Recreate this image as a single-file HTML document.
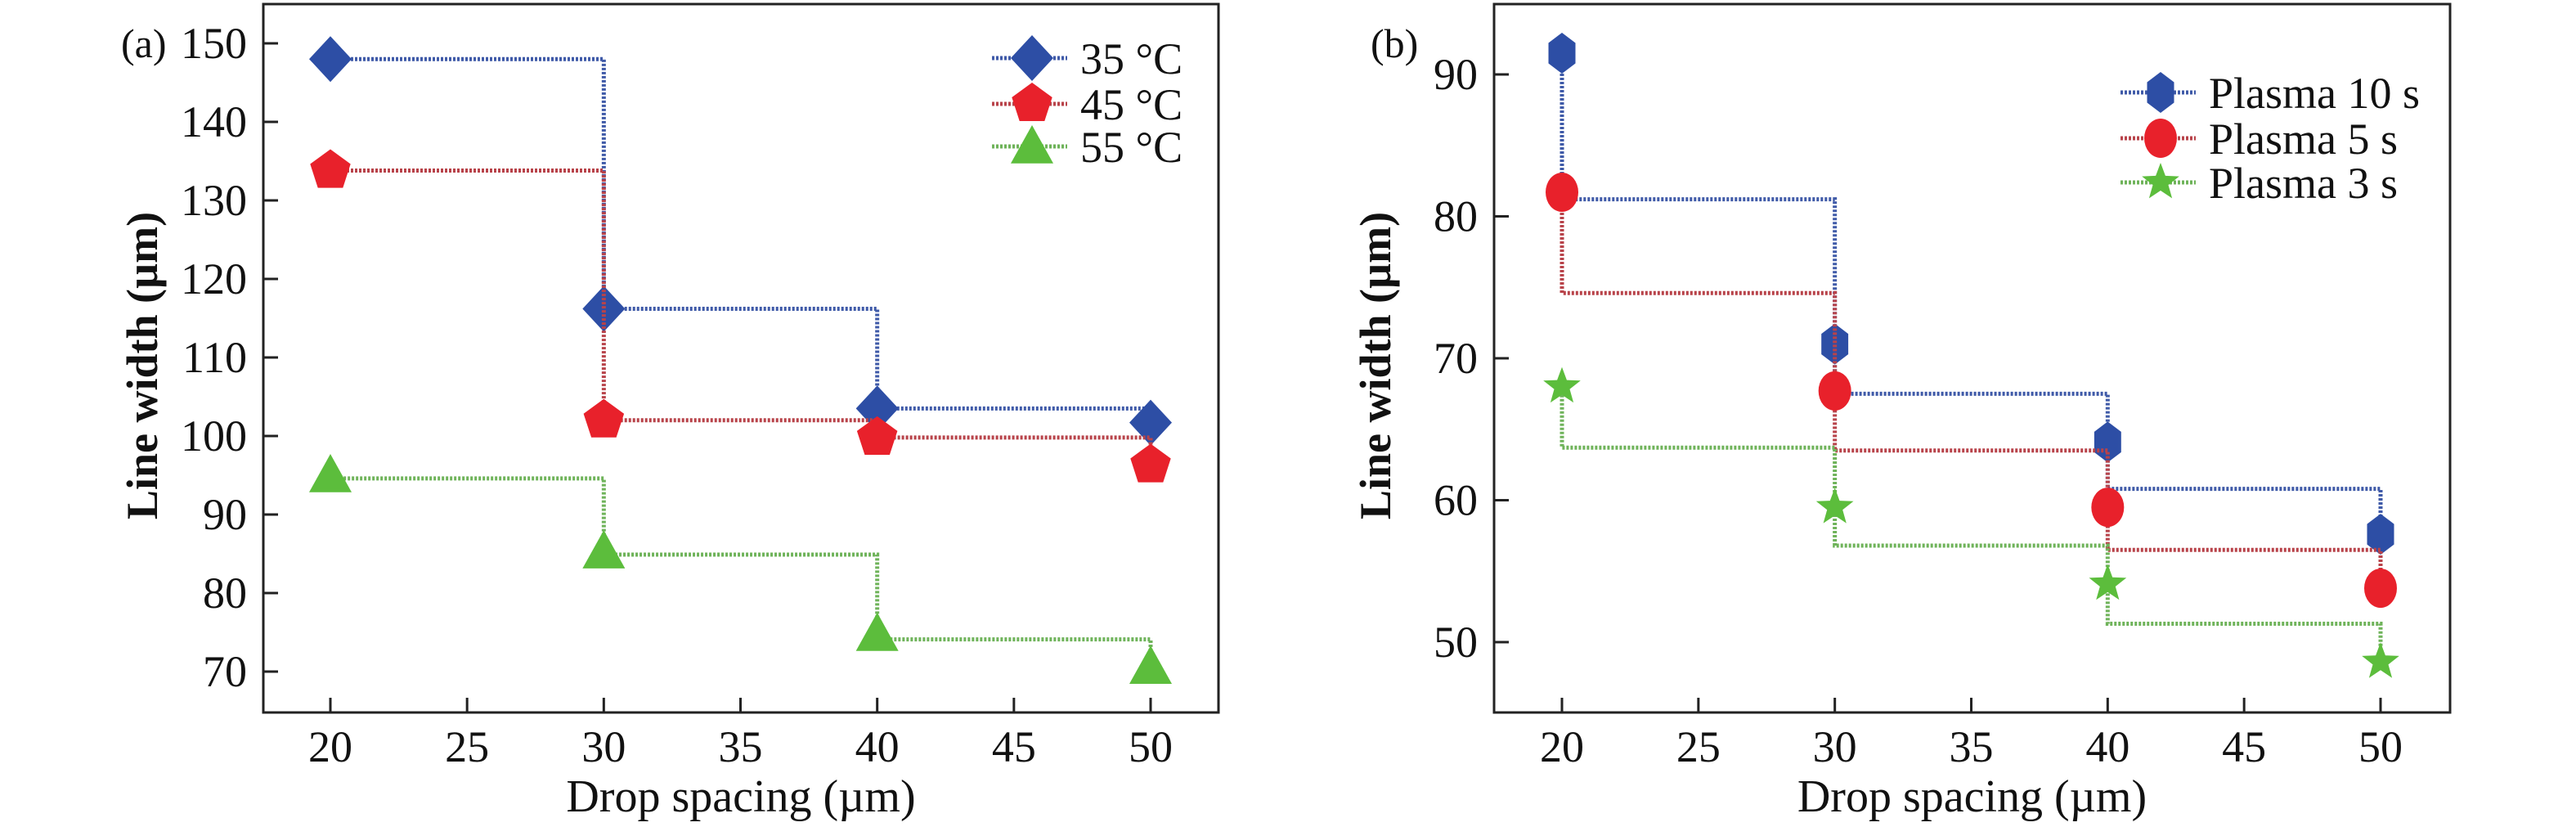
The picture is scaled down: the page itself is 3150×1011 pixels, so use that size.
<!DOCTYPE html>
<html><head><meta charset="utf-8"><style>
html,body{margin:0;padding:0;background:#fff;}
svg, svg text{font-family:"Liberation Serif","DejaVu Serif",serif;}
</style></head><body>
<svg id="chart" width="3150" height="1006" viewBox="0 0 3150 1006" xmlns="http://www.w3.org/2000/svg" font-family="Liberation Serif, serif"></svg>
<script>
// Panel (a)
const aX = [20, 30, 40, 50];
const a35 = [148, 116.2, 103.5, 101.7];
const a45 = [133.8, 102, 99.8, 96.3];
const a55 = [95, 85.3, 74.8, 70.6];
const a35Step = [148, 116.2, 103.5];
const a45Step = [133.8, 102, 99.8];
const a55Step = [94.6, 84.9, 74.1];
const aXTicks = [20, 25, 30, 35, 40, 45, 50];
const aYTicks = [70, 80, 90, 100, 110, 120, 130, 140, 150];
const aLabels = ["35 °C", "45 °C", "55 °C"];
// Panel (b)
const bX = [20, 30, 40, 50];
const b10 = [91.5, 71, 64.1, 57.6];
const b5 = [81.7, 67.7, 59.5, 53.8];
const b3 = [68, 59.5, 54.1, 48.6];
const b10Step = [81.2, 67.5, 60.8];
const b5Step = [74.6, 63.5, 56.5];
const b3Step = [63.7, 56.8, 51.3];
const bXTicks = [20, 25, 30, 35, 40, 45, 50];
const bYTicks = [50, 60, 70, 80, 90];
const bLabels = ["Plasma 10 s", "Plasma 5 s", "Plasma 3 s"];

const NS = "http://www.w3.org/2000/svg";
const svg = document.getElementById("chart");
const FF = "Liberation Serif, DejaVu Serif, serif";
function mk(tag, attrs, parent) {
  const e = document.createElementNS(NS, tag);
  for (const k in attrs) e.setAttribute(k, attrs[k]);
  if (tag === "text") e.setAttribute("font-family", FF);
  (parent || svg).appendChild(e);
  return e;
}
const COL = {blue:"#2d4ea5", red:"#e8212b", green:"#5cbd3c"};
const LINE = {blue:"#3f5aa8", red:"#b8434a", green:"#6fb35a"};

function marker(g, shape, cx, cy, color, name) {
  let e;
  const r = 26;
  if (shape === "diamond") {
    e = mk("polygon", {points:`${cx},${cy-r-2} ${cx+r},${cy} ${cx},${cy+r+2} ${cx-r},${cy}`, fill:color}, g);
  } else if (shape === "pentagon") {
    let p = [];
    for (let i = 0; i < 5; i++) { const a = -Math.PI/2 + i*2*Math.PI/5; p.push((cx+r*Math.cos(a)).toFixed(1)+","+(cy+r*Math.sin(a)).toFixed(1)); }
    e = mk("polygon", {points:p.join(" "), fill:color}, g);
  } else if (shape === "triangle") {
    e = mk("polygon", {points:`${cx},${cy-r} ${cx+r},${cy+r*0.8} ${cx-r},${cy+r*0.8}`, fill:color}, g);
  } else if (shape === "hexagon") {
    let p = [];
    for (let i = 0; i < 6; i++) { const a = -Math.PI/2 + i*Math.PI/3; p.push((cx+19*Math.cos(a)).toFixed(1)+","+(cy+25*Math.sin(a)).toFixed(1)); }
    e = mk("polygon", {points:p.join(" "), fill:color}, g);
  } else if (shape === "circle") {
    e = mk("ellipse", {cx:cx, cy:cy, rx:20, ry:24, fill:color}, g);
  } else if (shape === "star") {
    let p = [];
    for (let i = 0; i < 10; i++) { const a = -Math.PI/2 + i*Math.PI/5; const rr = i%2 ? 10 : 24; p.push((cx+rr*Math.cos(a)).toFixed(1)+","+(cy+rr*Math.sin(a)).toFixed(1)); }
    e = mk("polygon", {points:p.join(" "), fill:color}, g);
  }
  
  
}

function panel(cfg) {
  const g = mk("g", {});
  
  
  const xs = v => cfg.x0px + (v - 20) / 30 * (cfg.x1px - cfg.x0px);
  const ys = v => cfg.y0px + (v - cfg.y0v) / (cfg.y1v - cfg.y0v) * (cfg.y1px - cfg.y0px);
  const box = mk("rect", {x:cfg.L, y:cfg.T, width:cfg.R-cfg.L, height:cfg.B-cfg.T, fill:"none", stroke:"#222", "stroke-width":3}, g);
  
  
  cfg.xTicks.forEach(t => {
    const x = xs(t);
    const tk = mk("line", {x1:x, x2:x, y1:cfg.B, y2:cfg.B-18, stroke:"#222", "stroke-width":3}, g);
    
    
    const tl = mk("text", {x:x, y:cfg.B+60, "font-size":54, "text-anchor":"middle", fill:"#111"}, g);
    tl.textContent = t;
    
    
  });
  cfg.yTicks.forEach(t => {
    const y = ys(t);
    const tk = mk("line", {x1:cfg.L, x2:cfg.L+18, y1:y, y2:y, stroke:"#222", "stroke-width":3}, g);
    
    
    const tl = mk("text", {x:cfg.L-20, y:y+18, "font-size":54, "text-anchor":"end", fill:"#111"}, g);
    tl.textContent = t;
    
    
  });
  const xt = mk("text", {x:(cfg.L+cfg.R)/2, y:992, "font-size":56, "text-anchor":"middle", fill:"#111"}, g);
  xt.textContent = "Drop spacing (µm)";
  
  
  const yt = mk("text", {x:0, y:0, "font-size":54, "font-weight":"600", "text-anchor":"middle", fill:"#111", transform:`translate(${cfg.ytx},447) rotate(-90)`}, g);
  yt.textContent = "Line width (µm)";
  
  
  const pl = mk("text", {x:cfg.plx, y:70, "font-size":50, fill:"#111"}, g);
  pl.textContent = cfg.plabel;
  
  

  cfg.series.forEach((s, si) => {
    const d = [];
    d.push(`M${xs(cfg.xv[0])},${ys(s.m[0])}`);
    for (let i = 0; i < s.st.length; i++) {
      d.push(`L${xs(cfg.xv[i])},${ys(s.st[i])}`);
      d.push(`L${xs(cfg.xv[i+1])},${ys(s.st[i])}`);
    }
    d.push(`L${xs(cfg.xv[cfg.xv.length-1])},${ys(s.m[s.m.length-1])}`);
    const p = mk("path", {d:d.join(" "), fill:"none", stroke:LINE[s.c], "stroke-width":5, "stroke-dasharray":"3 2"}, g);
    
    
    s.m.forEach((v, i) => marker(g, s.shape, xs(cfg.xv[i]), ys(v), COL[s.c], s.name + '-point'));
    const ly = cfg.legY[si];
    const ll = mk("line", {x1:cfg.legX, x2:cfg.legX+92, y1:ly, y2:ly, stroke:LINE[s.c], "stroke-width":5, "stroke-dasharray":"3 2"}, g);
    
    
    marker(g, s.shape, cfg.legX+49, ly, COL[s.c], 'legend-marker');
    const lt = mk("text", {x:cfg.legX+108, y:ly+19, "font-size":54, fill:"#111"}, g);
    lt.textContent = cfg.labels[si];
    
    
  });
}

panel({name:"panel-a", L:322, R:1490, T:5, B:871, x0px:404, x1px:1407,
  y0v:70, y1v:150, y0px:821, y1px:53, xv:aX, xTicks:aXTicks, yTicks:aYTicks,
  ytx:192, plx:148, plabel:"(a)", legX:1213, legY:[71,127,179], labels:aLabels,
  series:[{m:a35, st:a35Step, c:"blue", shape:"diamond", name:"series-35c"},
          {m:a45, st:a45Step, c:"red", shape:"pentagon", name:"series-45c"},
          {m:a55, st:a55Step, c:"green", shape:"triangle", name:"series-55c"}]});
panel({name:"panel-b", L:1827, R:2996, T:5, B:871, x0px:1910, x1px:2911,
  y0v:50, y1v:90, y0px:785, y1px:91, xv:bX, xTicks:bXTicks, yTicks:bYTicks,
  ytx:1700, plx:1676, plabel:"(b)", legX:2593, legY:[113,169,223], labels:bLabels,
  series:[{m:b10, st:b10Step, c:"blue", shape:"hexagon", name:"series-plasma-10s"},
          {m:b5, st:b5Step, c:"red", shape:"circle", name:"series-plasma-5s"},
          {m:b3, st:b3Step, c:"green", shape:"star", name:"series-plasma-3s"}]});
</script>
</body></html>
